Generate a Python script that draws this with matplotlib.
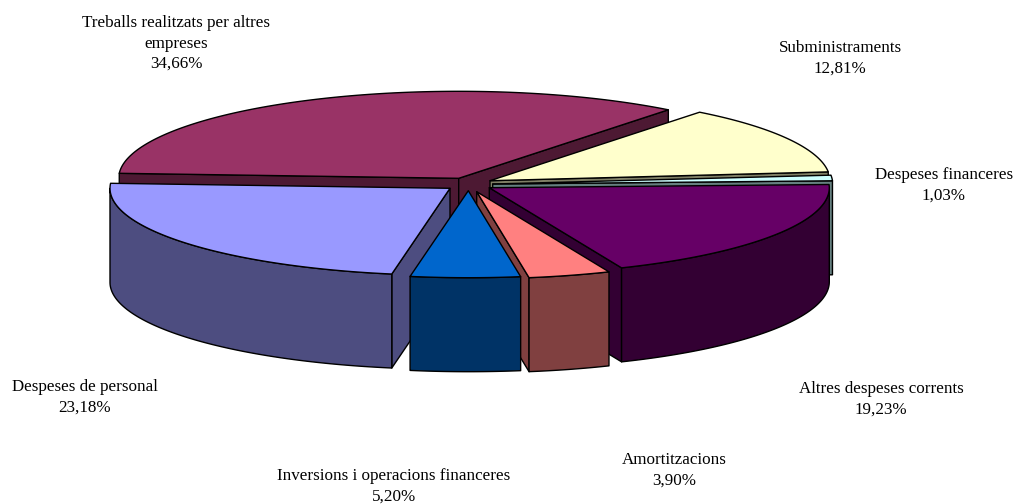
import numpy as np
import matplotlib
matplotlib.use("Agg")
import matplotlib.pyplot as plt
from matplotlib.patches import Polygon

plt.rcParams['font.family'] = ['Liberation Serif', 'DejaVu Serif']

categories = ["Treballs realitzats per altres\nempreses", "Subministraments", "Despeses financeres",
              "Altres despeses corrents", "Amortitzacions",
              "Inversions i operacions financeres", "Despeses de personal"]
values = [34.66, 12.81, 1.03, 19.23, 3.90, 5.20, 23.18]
value_labels = ["34,66%", "12,81%", "1,03%", "19,23%", "3,90%", "5,20%", "23,18%"]
top_colors = ["#993366", "#FFFFCC", "#CCFFFF", "#660066", "#FF8080", "#0066CC", "#9999FF"]
side_colors = ["#4D1933", "#808066", "#668080", "#330033", "#804040", "#003366", "#4D4D80"]

# layout (pixels)
apexes = [(458.7, 178.3), (490.0, 180.7), (492.7, 184.0), (489.3, 187.7),
          (476.7, 191.7), (468.3, 190.7), (450.0, 188.3)]
label_pos = [(176, 43.5), (840, 58), (944, 185.5), (881, 399.5), (674, 470), (394, 486), (85, 397)]
RX, RY, DEPTH = 340.0, 87.0, 94.0
START = 176.7
draw_order = [0, 1, 2, 3, 6, 4, 5]

fig = plt.figure(figsize=(10.15, 5.04), dpi=100, facecolor="white")
ax = fig.add_axes([0, 0, 1, 1])
ax.set_xlim(0, 1015)
ax.set_ylim(504, 0)
ax.axis("off")

total = sum(values)
edges = START - np.concatenate([[0], np.cumsum(values)]) * 360.0 / total
LW = 1.0


def arc(apex, t0, t1, n=120):
    t = np.radians(np.linspace(t0, t1, n))
    return np.column_stack([apex[0] + RX * np.cos(t), apex[1] - RY * np.sin(t)])


def face(pts, fc, z):
    ax.add_patch(Polygon(pts, closed=True, facecolor=fc, edgecolor="black",
                         linewidth=LW, joinstyle="round", zorder=z))


down = np.array([0.0, DEPTH])
for z, i in enumerate(draw_order):
    apex = np.array(apexes[i])
    t0, t1 = edges[i], edges[i + 1]
    base = 10 * z
    # radial faces: only those turned towards the viewer
    if np.cos(np.radians(t0)) < 0:
        rim = arc(apex, t0, t0, 1)[0]
        face([apex, rim, rim + down, apex + down], side_colors[i], base)
    if np.cos(np.radians(t1)) > 0:
        rim = arc(apex, t1, t1, 1)[0]
        face([apex, rim, rim + down, apex + down], side_colors[i], base + 1)
    # outer wall: only the part facing the viewer (sin t < 0)
    lo, hi = max(t1, -180.0), min(t0, 0.0)
    if hi > lo:
        top_edge = arc(apex, hi, lo)
        face(np.vstack([top_edge, (top_edge + down)[::-1]]), side_colors[i], base + 3)
    # top
    face(np.vstack([[apex], arc(apex, t0, t1)]), top_colors[i], base + 4)

for cat, val, (x, y) in zip(categories, value_labels, label_pos):
    ax.text(x, y, f"{cat}\n{val}", ha="center", va="center", fontsize=12.25,
            linespacing=1.38, color="black", zorder=200)

fig.savefig("out.png", dpi=100, facecolor="white")
